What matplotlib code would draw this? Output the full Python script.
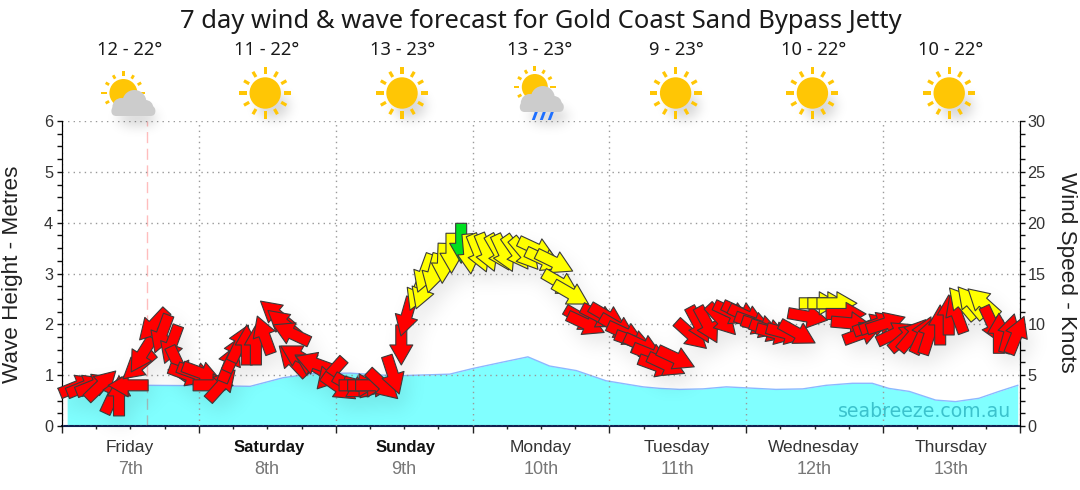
import numpy as np
import matplotlib
matplotlib.use("Agg")
import matplotlib.pyplot as plt
from matplotlib.collections import PathCollection
from matplotlib.path import Path
from matplotlib.patches import Circle, FancyBboxPatch, Polygon
from matplotlib.transforms import Affine2D, IdentityTransform
from matplotlib.ticker import MultipleLocator

plt.rcParams['font.family'] = ['Liberation Sans', 'DejaVu Sans']

TITLE = "7 day wind & wave forecast for Gold Coast Sand Bypass Jetty"
days = ["Friday", "Saturday", "Sunday", "Monday", "Tuesday", "Wednesday", "Thursday"]
dates = ["7th", "8th", "9th", "10th", "11th", "12th", "13th"]
weekend = ["Saturday", "Sunday"]
temps = ["12 - 22°", "11 - 22°", "13 - 23°", "13 - 23°", "9 - 23°", "10 - 22°", "10 - 22°"]
icons = ["partly", "sun", "sun", "rain", "sun", "sun", "sun"]

wave_hours = [0.9, 6, 11, 15.4, 27, 33, 38.8, 44, 50.5, 56.3, 59.5, 68, 72, 77, 81.7, 85.5, 90.2, 95.4,
              101.9, 104.8, 108.3, 112.4, 116.5, 120, 125.2, 129.9, 134, 138.6, 142.1, 145, 148.6,
              153.2, 156.7, 160.8, 164.3, 167.6]
wave_m = [0.75, 0.76, 0.80, 0.80, 0.79, 0.78, 0.95, 1.03, 1.04, 1.00, 0.99, 1.02, 1.13, 1.25, 1.36, 1.18, 1.09, 0.89,
          0.77, 0.74, 0.72, 0.73, 0.77, 0.75, 0.72, 0.73, 0.80, 0.84, 0.84, 0.74, 0.68,
          0.51, 0.48, 0.545, 0.68, 0.80]

wind_hours = [2.9, 4.2, 5.8, 6.9, 9.0, 10.0, 11.6, 13.4, 14.0, 16.0, 17.5, 19.2, 20.4, 22.1, 23.6, 24.5, 26.5, 28.0,
              29.4, 30.3, 31.2, 32.4, 34.0, 35.45, 37.5, 38.8, 40.2, 40.5, 41.4, 43.9, 44.3, 47.1, 48.6, 50.8, 52.8,
              52.1, 53.6, 55.0, 56.3, 58.05, 59.5, 60.4, 62.4, 63.3, 63.6, 65.1, 66.8, 68.3, 70.0, 71.4, 73.1, 74.5,
              76.6, 77.5, 79.7, 81.2, 83.3, 84.6, 86.4, 87.5, 89.3, 91.3, 91.9, 94.3, 95.7, 97.5, 98.9, 100.4, 101.9,
              103.4, 104.5, 106.0, 107.7, 110.4, 111.7, 113.2, 115.7, 117.6, 119.1, 120.2, 121.4, 122.6, 124.0, 125.2,
              127.0, 129.0, 130.8, 132.8, 134.3, 135.9, 137.5, 138.4, 140.4, 142.2, 143.3, 144.5, 146.2, 148.0, 149.2,
              150.9, 152.1, 154.0, 155.5, 156.9, 157.9, 159.4, 161.5, 163.2, 164.3, 166.1, 167.4]
wind_kn = [3.94, 3.94, 4.04, 4.04, 3.05, 2.96, 4.0, 5.91, 6.99, 9.91, 9.06, 8.01, 6.0, 5.02, 5.12, 5.19, 4.0, 4.04,
           6.17, 7.15, 8.14, 7.97, 7.97, 8.96, 11.02, 10.1, 9.12, 6.43, 6.89, 6.0, 6.17, 5.12, 3.81, 3.87, 3.87,
           4.0, 4.0, 4.0, 4.04, 5.02, 7.97, 10.75, 13.2, 13.38, 15.02, 15.02, 16.0, 16.99, 17.97, 16.92, 16.99, 17.05,
           17.05, 16.99, 17.05, 16.92, 17.38, 16.33, 16.1, 14.03, 12.98, 10.49, 10.03, 10.75, 10.75, 9.7, 9.05, 8.29, 7.87,
           6.98, 5.9, 6.0, 6.65, 8.95, 9.94, 9.94, 10.43, 11.09, 11.09, 10.76, 10.1, 9.77, 9.38, 9.12,
           9.12, 9.12, 10.76, 12.07, 12.07, 12.07, 11.02, 10.1, 9.12, 9.94, 10.1, 10.1, 9.12, 8.79, 8.95,
           8.95, 8.95, 9.94, 10.92, 11.02, 12.07, 12.17, 12.17, 9.94, 9.12, 9.12, 8.95]
wind_arrow_deg = [22, 22, 22, 44, 65, 90, 180, 220, 238, 227, 250, 250, -65, -20, -20, -20, 0, 48,
                  68, 65, 65, 90, 90, 110, 140, 140, 155, 133, 150, 150, 160, 228, -35, -30, -15,
                  0, 0, 0, -43, -72, 270, 254, 247, 250, 250, 255, 268, 270, 270, -85, -68, -68,
                  -60, -65, -55, -50, -25, -25, -26, -30, -30, -30, -25, -27, -30, -30, -25, -20, -25,
                  -22, -20, -25, -25, -42, -62, -62, -47, -25, -25, -25, -20, -18, -20, -15,
                  -15, -29, -10, 0, 0, 0, 0, -5, 20, 20, 20, 18, 25, 40, 50,
                  65, 72, 90, 90, 110, 130, 130, 138, -65, 90, 75, 68]
# r = poor, y = fair, g = good
wind_rating = list("r" * 42 + "y" * 6 + "g" + "y" * 12 + "r" * 26 + "yyy" + "r" * 14 + "yyy" + "rrrr")

rating_colours = {"r": "#FF0000", "y": "#FFFF00", "g": "#00E020"}


def arrow_path(deg, length=40, shaft=11, span=23, head=20):
    a, b = -length / 2, length / 2
    n = b - head
    v = [(a, -shaft / 2), (n, -shaft / 2), (n, -span / 2), (b, 0), (n, span / 2), (n, shaft / 2), (a, shaft / 2), (a, -shaft / 2)]
    c = [Path.MOVETO] + [Path.LINETO] * 6 + [Path.CLOSEPOLY]
    return Path(Affine2D().rotate_deg(deg).transform(np.array(v, float)), c)


def blur_alpha(sigma, opacity):
    def flt(img, dpi):
        pad = int(4 * sigma)
        alpha = np.pad(img[..., 3], pad)
        xs = np.arange(-pad, pad + 1)
        k = np.exp(-xs ** 2 / (2 * sigma ** 2))
        k /= k.sum()
        alpha = np.apply_along_axis(lambda m: np.convolve(m, k, mode="same"), 0, alpha)
        alpha = np.apply_along_axis(lambda m: np.convolve(m, k, mode="same"), 1, alpha)
        out = np.zeros(alpha.shape + (4,))
        out[..., 3] = alpha * opacity
        return out, -pad, -pad
    return flt


fig = plt.figure(figsize=(10.8, 4.9), dpi=100, facecolor="white")
ax = fig.add_axes([62 / 1080, (490 - 426) / 490, (1020 - 62) / 1080, 305 / 490])
ax.set_xlim(0, 168)
ax.set_ylim(0, 6)
ax2 = ax.twinx()
ax2.set_ylim(0, 30)
ax2.set_zorder(ax.get_zorder() + 1)

ax.fill_between(wave_hours, wave_m, 0, color="#80FFFF", lw=0, zorder=1)
ax.plot(wave_hours, wave_m, color="#8CB8FF", lw=1, zorder=1.5)
ax.axvline(14.85, color="#FF0000", alpha=0.26, lw=1, ls=(0, (8, 4)), zorder=2)

ax.xaxis.set_major_locator(MultipleLocator(24))
ax.xaxis.set_minor_locator(MultipleLocator(6))
ax.yaxis.set_major_locator(MultipleLocator(1))
ax.yaxis.set_minor_locator(MultipleLocator(0.25))
ax2.yaxis.set_major_locator(MultipleLocator(5))
ax2.yaxis.set_minor_locator(MultipleLocator(1.25))
ax.tick_params(axis="x", which="major", length=5, width=1, color="#222222", labelbottom=False)
ax.tick_params(axis="x", which="minor", length=2.5, width=1, color="#222222")
ax.tick_params(axis="y", which="both", length=3.3, width=1, labelsize=11.7, color="#111111", labelcolor="#333333", pad=3)
ax2.tick_params(axis="y", which="both", length=3.3, width=1, labelsize=11.7, color="#111111", labelcolor="#333333", pad=2)
ax.grid(True, which="major", color="#999999", lw=1, ls=(0, (1, 3)))
ax.set_axisbelow(False)
ax.spines["top"].set_visible(False)
ax2.spines["top"].set_visible(False)
ax.spines["bottom"].set_color("#102050")
ax.spines["bottom"].set_linewidth(1.5)
ax2.spines["bottom"].set_visible(False)

paths = [arrow_path(d) for d in wind_arrow_deg]
offsets = np.column_stack([wind_hours, wind_kn])
shadow_tf = ax2.transData + Affine2D().translate(6, -10)
shadow = PathCollection(paths, offsets=offsets, offset_transform=shadow_tf, transform=IdentityTransform(),
                        facecolors="black", edgecolors="none", zorder=3, clip_on=False)
shadow.set_agg_filter(blur_alpha(7, 0.32))
ax2.add_collection(shadow)
arrows = PathCollection(paths, offsets=offsets, offset_transform=ax2.transData, transform=IdentityTransform(),
                        facecolors=[rating_colours[r] for r in wind_rating], edgecolors="#3A3A3A", linewidths=0.8,
                        zorder=4, clip_on=False)
ax2.add_collection(arrows)

# overlay in pixel coordinates for texts and weather icons
ov = fig.add_axes([0, 0, 1, 1], facecolor="none")
ov.set_xlim(0, 1080)
ov.set_ylim(490, 0)
ov.axis("off")
ov.set_zorder(ax2.get_zorder() + 1)

ov.text(540.5, 21, TITLE, ha="center", va="center", fontsize=18.4, color="#1A1A1A", family="Noto Sans")
ov.text(13, 274, "Wave Height - Metres", rotation=90, ha="center", va="center", fontsize=16.2, color="#222222")
ov.text(1066, 272, "Wind Speed - Knots", rotation=270, ha="center", va="center", fontsize=16.2, color="#222222")
ov.text(925, 411, "seabreeze.com.au", ha="center", va="center", fontsize=13.6, color="#30B8C4", alpha=0.85,
        family="DejaVu Sans")

day_px = 62 + 136.8 * (np.arange(7) + 0.5)
for x, dname, dt, tmp in zip(day_px, days, dates, temps):
    ov.text(x - 1, 50, tmp, ha="center", va="center", fontsize=13.2, color="#1A1A1A", family="Noto Sans")
    bold = dname in weekend
    ov.text(x + (1.5 if bold else -0.5), 447, dname, ha="center", va="center", fontsize=12.0 if bold else 12.5,
            fontweight="bold" if bold else "normal", color="#111111" if bold else "#333333")
    ov.text(x, 469, dt, ha="center", va="center", fontsize=13, color="#777777")


def cloud_patches(cx, cy, col="#CCCCCC"):
    return [
        FancyBboxPatch((cx - 22, cy + 1), 44, 10, boxstyle="round,pad=0,rounding_size=5", fc=col, ec="none"),
        Circle((cx - 12, cy + 2), 9, fc=col, ec="none"),
        Circle((cx + 1, cy - 3), 12, fc=col, ec="none"),
        Circle((cx + 12, cy + 3), 8, fc=col, ec="none"),
    ]


def sun_patches(cx, cy, r, r1, r2, w):
    out = [Circle((cx, cy), r, fc="#FFC605", ec="none")]
    for i in range(12):
        t = np.deg2rad(30 * i)
        ux, uy = np.cos(t), np.sin(t)
        px, py = -uy * w / 2, ux * w / 2
        rr2 = r2 if i % 3 == 0 else r2 - 1.5
        pts = [(cx + ux * r1 + px, cy + uy * r1 + py), (cx + ux * rr2 + px, cy + uy * rr2 + py),
               (cx + ux * rr2 - px, cy + uy * rr2 - py), (cx + ux * r1 - px, cy + uy * r1 - py)]
        out.append(Polygon(pts, fc="#FFC605", ec="none"))
    return out


def add_icon_shadow(cx, cy, w, h):
    c = Circle((cx, cy), 1, transform=Affine2D().scale(w, h).translate(0, 0) + ov.transData, fc="black", ec="none", zorder=1)
    c.center = (cx / w, cy / h)
    c.set_agg_filter(blur_alpha(6, 0.16))
    ov.add_patch(c)


for x, kind in zip(day_px, icons):
    if kind == "sun":
        cx = x - 2
        add_icon_shadow(cx + 8, 106, 16, 13)
        for p in sun_patches(cx, 93, 15.7, 18.5, 26, 3.2):
            p.set_zorder(2)
            ov.add_patch(p)
    elif kind == "partly":
        cx = x - 7
        add_icon_shadow(cx + 14, 118, 20, 8)
        for p in sun_patches(cx, 93, 14, 16.5, 22, 2.8):
            p.set_zorder(2)
            ov.add_patch(p)
        for p in cloud_patches(cx + 10, 105):
            p.set_zorder(3)
            ov.add_patch(p)
    else:
        cx = x - 6
        add_icon_shadow(cx + 14, 116, 20, 8)
        for p in sun_patches(cx, 87, 13, 15.5, 21, 2.8):
            p.set_zorder(2)
            ov.add_patch(p)
        for p in cloud_patches(cx + 7, 101):
            p.set_zorder(3)
            ov.add_patch(p)
        for dx in (0, 8, 16):
            ov.add_patch(Polygon([(cx + dx, 112), (cx + dx + 3, 112), (cx + dx, 120), (cx + dx - 3, 120)],
                                 fc="#1E6FFF", ec="none", zorder=3))

fig.savefig("out.png", dpi=100, facecolor="white")
